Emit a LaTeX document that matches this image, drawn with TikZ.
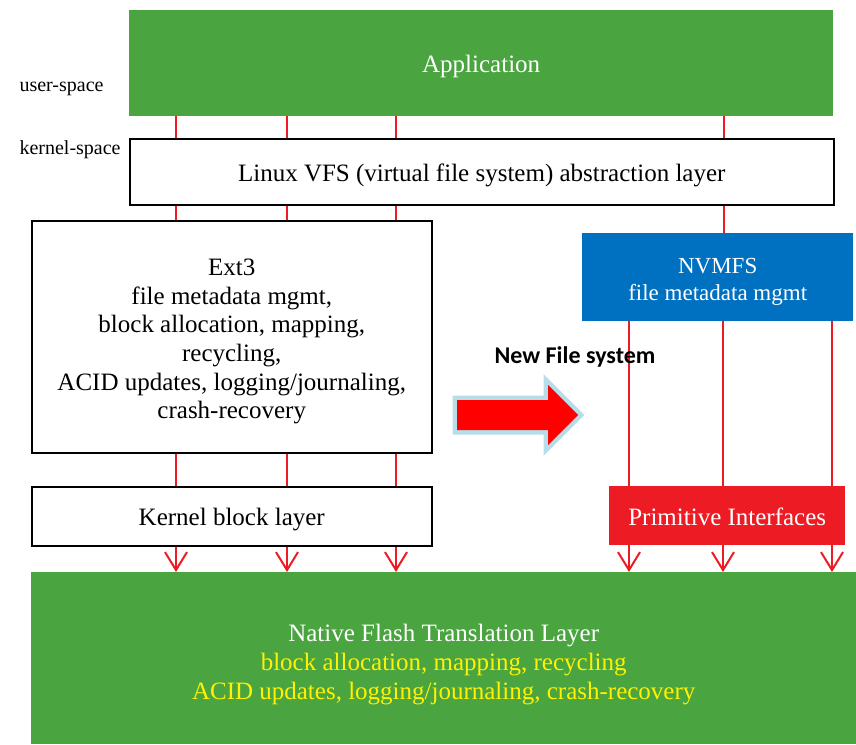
\documentclass[tikz,border=0pt]{standalone}
\usepackage{fontspec}
\setmainfont{Liberation Serif}
\newfontfamily\calib{Carlito}
\usetikzlibrary{arrows.meta}
\definecolor{boxgreen}{RGB}{74,164,64}
\definecolor{boxblue}{RGB}{0,112,192}
\definecolor{boxred}{RGB}{237,28,36}
\definecolor{glow}{RGB}{183,221,232}
\newcommand{\topstrut}[1]{\rule{0pt}{#1}}
\tikzset{
  layer/.style={draw=black, line width=1.5pt, fill=white, inner sep=0pt, anchor=north west, align=center, font=\fontsize{25}{28.7}\selectfont},
  solid/.style={draw=none, inner sep=0pt, anchor=north west, align=center, text=white, font=\fontsize{25}{29}\selectfont},
  link/.style={draw=boxred, line width=2pt},
  down/.style={link, -{Straight Barb[length=18pt,width=22pt,line width=2pt]}},
  side/.style={font=\fontsize{20}{22}\selectfont}
}
\begin{document}
\begin{tikzpicture}[x=1pt,y=-1pt]
\useasboundingbox (0,0) rectangle (856,744);
% column guides for the vertical links
\coordinate (c1) at (176,0);
\coordinate (c2) at (287,0);
\coordinate (c3) at (396,0);
\coordinate (c4) at (724,0);
\coordinate (d1) at (629,0);
\coordinate (d2) at (723,0);
\coordinate (d3) at (832,0);

% layers
\node[solid, fill=boxgreen, minimum width=704pt, minimum height=106pt, text height=23pt] (app) at (129,10) {Application};
\node[layer, minimum width=704pt, minimum height=66pt, text height=25.5pt] (vfs) at (129,138) {Linux VFS (virtual file system) abstraction layer};
\node[layer, minimum width=400pt, minimum height=232pt] (ext) at (31,220) {\topstrut{26pt}Ext3\\file metadata mgmt,\\block allocation, mapping,\\recycling,\\ACID updates, logging/journaling,\\crash-recovery};
\node[layer, minimum width=400pt, minimum height=59pt, text height=23pt] (kbl) at (31,486) {Kernel block layer};
\node[solid, fill=boxblue, minimum width=271pt, minimum height=88pt, font=\fontsize{23}{27}\selectfont] (nvm) at (582,233) {\topstrut{25pt}NVMFS\\file metadata mgmt};
\node[solid, fill=boxgreen, minimum width=825pt, minimum height=172pt] (nftl) at (31,572) {\topstrut{29pt}Native Flash Translation Layer\\\textcolor{yellow}{block allocation, mapping, recycling}\\\textcolor{yellow}{ACID updates, logging/journaling, crash-recovery}};

% space labels
\node[side, anchor=west] (us) at (16,89) {user-space};
\node[side, anchor=west] (ks) at (16,150) {kernel-space};

% links between layers
\foreach \c in {c1,c2,c3,c4} \draw[link] (app.south -| \c) -- (vfs.north -| \c);
\foreach \c in {c1,c2,c3} {
  \draw[link] (vfs.south -| \c) -- (ext.north -| \c);
  \draw[link] (ext.south -| \c) -- (kbl.north -| \c);
  \draw[down] (kbl.south -| \c) -- (nftl.north -| \c);
}
\draw[link] (vfs.south -| c4) -- (nvm.north -| c4);
\foreach \c in {d1,d2,d3} \draw[down] (nvm.south -| \c) -- (nftl.north -| \c);

\node[solid, fill=boxred, minimum width=236pt, minimum height=59pt, text height=19pt] (prim) at (609,486) {Primitive Interfaces};

% transition arrow
\node[font=\calib\bfseries\fontsize{24}{28}\selectfont, anchor=center] (nfs) at (575,357) {New File system};
\path[draw=glow, line width=9pt, line join=miter, fill=glow]
  (457,400) -- (548,400) -- (548,385) -- (578,415) -- (548,445) -- (548,430) -- (457,430) -- cycle;
\fill[red] (457,400) -- (548,400) -- (548,385) -- (578,415) -- (548,445) -- (548,430) -- (457,430) -- cycle;
\end{tikzpicture}
\end{document}
